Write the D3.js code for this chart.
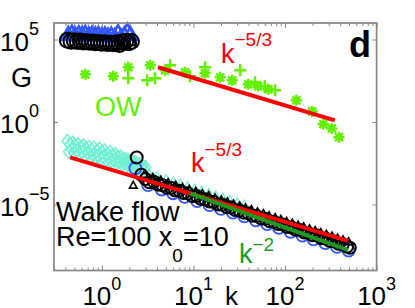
<!DOCTYPE html>
<html>
<head>
<meta charset="utf-8">
<script src="https://cdn.jsdelivr.net/npm/d3@7"></script>
<style>
  body { margin: 0; background: #fff; }
  text { font-family: "Liberation Sans", Arial, Helvetica, sans-serif; }
</style>
</head>
<body>
<div id="chart"></div>
<script>
// ---- data ----
// upper cluster (k ~ 0.4..2)
const upCircK = [0.42,0.46,0.5,0.54,0.58,0.63,0.68,0.73,0.79,0.85,0.92,0.99,1.07,1.15,1.24,1.34,1.45,1.56,1.68,1.82,1.96,2.1];
const upCircG = [8.9e4,7.9e4,8.3e4,7.6e4,8.0e4,7.1e4,7.4e4,6.8e4,7.0e4,6.3e4,6.6e4,6.0e4,6.3e4,5.8e4,6.0e4,5.6e4,6.3e4,5.0e4,7.1e4,7.9e4,6.3e4,7.6e4];
const upTriK = [0.43,0.47,0.51,0.56,0.61,0.66,0.72,0.78,0.85,0.92,1.0,1.08,1.17,1.27,1.38,1.5,1.62,1.76,1.9,2.05];
const upTriG = [2.0e5,2.4e5,1.9e5,2.2e5,2.0e5,2.3e5,1.8e5,2.1e5,1.9e5,2.0e5,1.7e5,1.9e5,1.6e5,1.8e5,1.5e5,2.6e5,1.4e5,1.9e5,3.2e5,2.0e5];
const upBlkTriK = [1.45, 1.62, 1.85, 2.1];
const upBlkTriG = [4.0e4, 4.5e4, 6.5e4, 7.5e4];

// OW series
const owStarK = [0.66,1.33,1.94,3.37,4.91,8.1,13.4,19.6,26.5,39.7,51,66,133,198,262,325,388];
const owStarG = [776,590,2080,2740,1360,1030,890,510,337,192,146,96,20.6,4.4,0.73,0.41,0.12];
const owPlusK = [1.94,3.12,3.8,5.57,9.2,13.4,32.4,47,60,78];
const owPlusG = [445,337,445,2740,590,2080,1360,256,146,83];

// wake flow spectra
const cyanDiaK = [0.42,0.435,0.45,0.465,0.48,0.495,0.51,0.53,0.55,0.57,0.59,0.61,0.63,0.65,0.67,0.70,0.72,0.745,0.77,0.80,0.82,0.85,0.88,0.91,0.94,0.97,1.0,1.04,1.07,1.11,1.15,1.19,1.23,1.27,1.31,1.36,1.4,1.45,1.5,1.55,1.6,1.66,1.72,1.78,1.84,1.9,1.97,2.03,2.1,2.17,2.25,2.32,2.4,2.5,2.6,2.7,2.8,2.9,3.0];
const cyanDiaG = [7.0e-2,1.6e-2,4.5e-2,2.2e-2,5.5e-2,1.3e-2,3.8e-2,1.8e-2,4.5e-2,1.1e-2,3.0e-2,1.5e-2,3.8e-2,9.0e-3,2.4e-2,1.2e-2,3.0e-2,8.0e-3,2.0e-2,1.0e-2,2.8e-2,7.0e-3,1.8e-2,8.5e-3,2.4e-2,6.0e-3,1.5e-2,7.0e-3,1.9e-2,5.0e-3,1.2e-2,6.0e-3,1.5e-2,4.2e-3,9.5e-3,4.8e-3,1.1e-2,3.5e-3,7.5e-3,3.8e-3,8.0e-3,2.8e-3,5.8e-3,3.0e-3,5.5e-3,2.3e-3,4.5e-3,2.4e-3,4.2e-3,1.9e-3,3.6e-3,1.8e-3,3.2e-3,1.6e-3,2.8e-3,1.5e-3,2.2e-3,1.3e-3,1.9e-3];
const cyanTriK = [3.3,4,5,6,7.2,8.6,10.3,12.3,14.7,17.5,21,25,30,36];
const cyanTriG = [9.1e-4,6.5e-4,4.3e-4,3.0e-4,2.2e-4,1.6e-4,1.15e-4,8.3e-5,6.0e-5,4.4e-5,3.1e-5,2.3e-5,1.6e-5,1.2e-5];
const blueCircK = [2.32,3.2,4.5,6,8,11,15,20,27,36,48,64,86,115,155,205,275,370,495];
const blueCircG = [1.55e-3,1.5e-4,8.1e-5,4.8e-5,2.9e-5,1.6e-5,9.1e-6,5.4e-6,3.2e-6,1.9e-6,1.1e-6,6.5e-7,3.8e-7,2.2e-7,1.3e-7,7.8e-8,4.6e-8,2.7e-8,1.6e-8];
const blkCircK = [2.4,2.7,3.0,3.3,3.7,4.1,4.6,5.1,5.7,6.3,7.0,7.8,8.7,9.7,10.8,12,13.4,15,16.7,18.6,20.7,23,25.7,28.6,31.9,35.5,39.6,44,49,55,61,68,76,84,94,105,117,130,145,162,180,200,223,249,277,309,344,383,427,476,510];
const blkCircG = [7e-3,6.3e-4,3.5e-4,2.2e-4,2.4e-4,1.6e-4,1.45e-4,1.05e-4,1.0e-4,7.1e-5,6.9e-5,5.0e-5,4.7e-5,3.2e-5,3.3e-5,2.2e-5,2.1e-5,1.5e-5,1.4e-5,1.0e-5,9.5e-6,6.9e-6,6.5e-6,4.6e-6,4.4e-6,3.2e-6,3.0e-6,2.1e-6,2.0e-6,1.4e-6,1.35e-6,9.5e-7,8.9e-7,6.5e-7,6.2e-7,4.4e-7,4.2e-7,3.0e-7,2.8e-7,2.0e-7,1.9e-7,1.35e-7,1.3e-7,9.1e-8,8.7e-8,6.2e-8,5.8e-8,4.2e-8,3.9e-8,2.8e-8,2.4e-8];
const blkTriK = [2.2,2.9,3.6,4.4,5.3,6.4,7.6,9.0,10.6,12.5,14.7,17.2,20.1,23.5,27.4,32,37,43,50,58,67,78,90,104,120,139,160,185,213,246,283,326,375,430,495];
const blkTriG = [1.45e-4,6.5e-4,4.4e-4,3.0e-4,2.1e-4,1.5e-4,1.1e-4,8.1e-5,6.2e-5,4.5e-5,3.4e-5,2.5e-5,1.9e-5,1.45e-5,1.07e-5,8.1e-6,6.3e-6,4.8e-6,3.6e-6,2.8e-6,2.1e-6,1.6e-6,1.25e-6,9.5e-7,7.4e-7,5.6e-7,4.4e-7,3.3e-7,2.6e-7,2.0e-7,1.55e-7,1.2e-7,9.3e-8,7.2e-8,5.6e-8];

// reference power laws (end points)
const fitUpK = [4.1, 350];      const fitUpG = [2070, 1.26];     // k^-5/3 (OW)
const fitLowK = [0.45, 490];    const fitLowG = [7.2e-3, 6.2e-8]; // k^-5/3 (wake)
const fitK2K = [9.2, 490];      const fitK2G = [4.8e-5, 1.69e-8]; // k^-2

const xMajor = [1, 10, 100, 1000];
const xMajorExp = ["0", "1", "2", "3"];
const yMajor = [1e5, 1, 1e-5];
const yMajorExp = ["5", "0", "\u22125"];

// ---- layout ----
const width = 415, height = 308;
const margin = { left: 54, right: 38.4, top: 23, bottom: 37.5 };

const red = "#ff0000", lime = "#62f000", dkGreen = "#1f9a1f",
      cyan = "#72f0d4", blue = "#3355ff", axisColor = "#858585";

const svg = d3.select("#chart")
  .append("svg")
    .attr("width", width)
    .attr("height", height);

const x = d3.scaleLog().domain([0.3, 1000]).range([margin.left, width - margin.right]);
const y = d3.scaleLog().domain([1e-9, 1e6]).range([height - margin.bottom, margin.top]);

const zip = (ks, gs) => ks.map((k, i) => ({ k, g: gs[i] }));

const starPath = s => {
  const d = s * 0.72;
  return `M${-s},0L${s},0M0,${-s}L0,${s}M${-d},${-d}L${d},${d}M${-d},${d}L${d},${-d}`;
};
const plusPath = s => `M${-s},0L${s},0M0,${-s}L0,${s}`;
const diamondPath = s => `M0,${-s}L${s * 0.8},0L0,${s}L${-s * 0.8},0Z`;
const triPath = s => `M0,${-s}L${s * 0.95},${s * 0.7}L${-s * 0.95},${s * 0.7}Z`;

const plotPaths = (data, pathStr, color, sw) => {
  svg.append("g")
    .selectAll("path")
    .data(data)
    .join("path")
      .attr("transform", d => `translate(${x(d.k)},${y(d.g)})`)
      .attr("d", pathStr)
      .attr("fill", "none")
      .attr("stroke", color)
      .attr("stroke-width", sw);
};
const plotCircles = (data, r, color, sw) => {
  svg.append("g")
    .selectAll("circle")
    .data(data)
    .join("circle")
      .attr("cx", d => x(d.k))
      .attr("cy", d => y(d.g))
      .attr("r", r)
      .attr("fill", "none")
      .attr("stroke", color)
      .attr("stroke-width", sw);
};
const plotLine = (ks, gs, color) => {
  svg.append("path")
    .datum(zip(ks, gs))
    .attr("d", d3.line().x(d => x(d.k)).y(d => y(d.g)))
    .attr("stroke", color)
    .attr("stroke-width", 4)
    .attr("fill", "none");
};

// upper cluster
plotPaths(zip(upTriK, upTriG), triPath(7.5), blue, 2.6);
plotCircles(zip(upCircK, upCircG), 7.5, "#000", 2);
plotPaths(zip(upBlkTriK, upBlkTriG), triPath(5), "#000", 1.8);

// OW
plotPaths(zip(owStarK, owStarG), starPath(5.5), lime, 2.5);
plotPaths(zip(owPlusK, owPlusG), plusPath(6), lime, 2.5);
plotLine(fitUpK, fitUpG, red);

// wake
plotPaths(zip(cyanDiaK, cyanDiaG), diamondPath(6.5), cyan, 1.5);
plotPaths(zip(cyanTriK, cyanTriG), triPath(3), cyan, 1.3);
plotCircles(zip(blueCircK, blueCircG), 6, blue, 1.8);
plotCircles(zip(blkCircK, blkCircG), 6, "#000", 2);
plotPaths(zip(blkTriK, blkTriG), triPath(4), "#000", 1.6);
plotLine(fitLowK, fitLowG, red);
plotLine(fitK2K, fitK2G, dkGreen);

// ---- axes ----
const xMinor = [];
xMajor.forEach(m => d3.range(2, 10).forEach(j => {
  const v = m / 10 * j;
  if (v >= 0.3 && v <= 1000) xMinor.push(v);
}));

const axisG = svg.append("g");
const styleAxis = g => g.call(s => s.select(".domain").remove())
  .selectAll("line").attr("stroke", axisColor).attr("stroke-width", 1);

axisG.append("g").attr("transform", `translate(0,${y.range()[0]})`)
  .call(d3.axisBottom(x).tickValues(xMinor).tickSize(-3).tickFormat("")).call(styleAxis);
axisG.append("g").attr("transform", `translate(0,${y.range()[0]})`)
  .call(d3.axisBottom(x).tickValues(xMajor).tickSize(-5).tickFormat("")).call(styleAxis);
axisG.append("g").attr("transform", `translate(0,${y.range()[1]})`)
  .call(d3.axisTop(x).tickValues(xMinor).tickSize(-3).tickFormat("")).call(styleAxis);
axisG.append("g").attr("transform", `translate(0,${y.range()[1]})`)
  .call(d3.axisTop(x).tickValues(xMajor).tickSize(-5).tickFormat("")).call(styleAxis);
axisG.append("g").attr("transform", `translate(${x.range()[0]},0)`)
  .call(d3.axisLeft(y).tickValues(yMajor).tickSize(-4).tickFormat("")).call(styleAxis);
axisG.append("g").attr("transform", `translate(${x.range()[1]},0)`)
  .call(d3.axisRight(y).tickValues(yMajor).tickSize(-4).tickFormat("")).call(styleAxis);

axisG.append("rect")
  .attr("x", x.range()[0]).attr("y", y.range()[1])
  .attr("width", x.range()[1] - x.range()[0])
  .attr("height", y.range()[0] - y.range()[1])
  .attr("fill", "none")
  .attr("stroke", axisColor)
  .attr("stroke-width", 1.7);

// tick labels
xMajor.forEach((v, i) => {
  const t = svg.append("text")
    .attr("x", x(v)).attr("y", 305)
    .attr("text-anchor", "middle")
    .style("font-size", "26px");
  t.append("tspan").text("10");
  t.append("tspan").attr("dy", -15).style("font-size", "18px").text(xMajorExp[i]);
});
yMajor.forEach((v, i) => {
  const t = svg.append("text")
    .attr("x", 0).attr("y", y(v) + 11)
    .style("font-size", "26px");
  t.append("tspan").text("10");
  t.append("tspan").attr("dy", -16).style("font-size", "18px").text(yMajorExp[i]);
});

// axis titles & annotations
const label = (tx, ty, str, size, color, weight) =>
  svg.append("text").attr("x", tx).attr("y", ty)
    .attr("fill", color || "#000")
    .style("font-size", size + "px")
    .style("font-weight", weight || 400)
    .text(str);

label(225, 305, "k", 26);
label(11, 87, "G", 27);
label(349, 57, "d", 36, "#000", 700);
label(95, 116, "OW", 27, lime);
label(56, 221, "Wake flow", 27);

const powLabel = (tx, ty, expo, color, dy) => {
  const t = svg.append("text").attr("x", tx).attr("y", ty)
    .attr("fill", color).style("font-size", "27px");
  t.append("tspan").text("k");
  t.append("tspan").attr("dy", dy).style("font-size", "19px").text(expo);
};
powLabel(221, 63, "\u22125/3", red, -17);
powLabel(191, 172, "\u22125/3", red, -16);
powLabel(239, 263, "\u22122", dkGreen, -12);

const re = svg.append("text").attr("x", 56).attr("y", 246).style("font-size", "27px");
re.append("tspan").text("Re=100 x");
re.append("tspan").attr("dy", 16).style("font-size", "19px").text("0");
re.append("tspan").attr("dy", -16).text("=10");
</script>
</body>
</html>
